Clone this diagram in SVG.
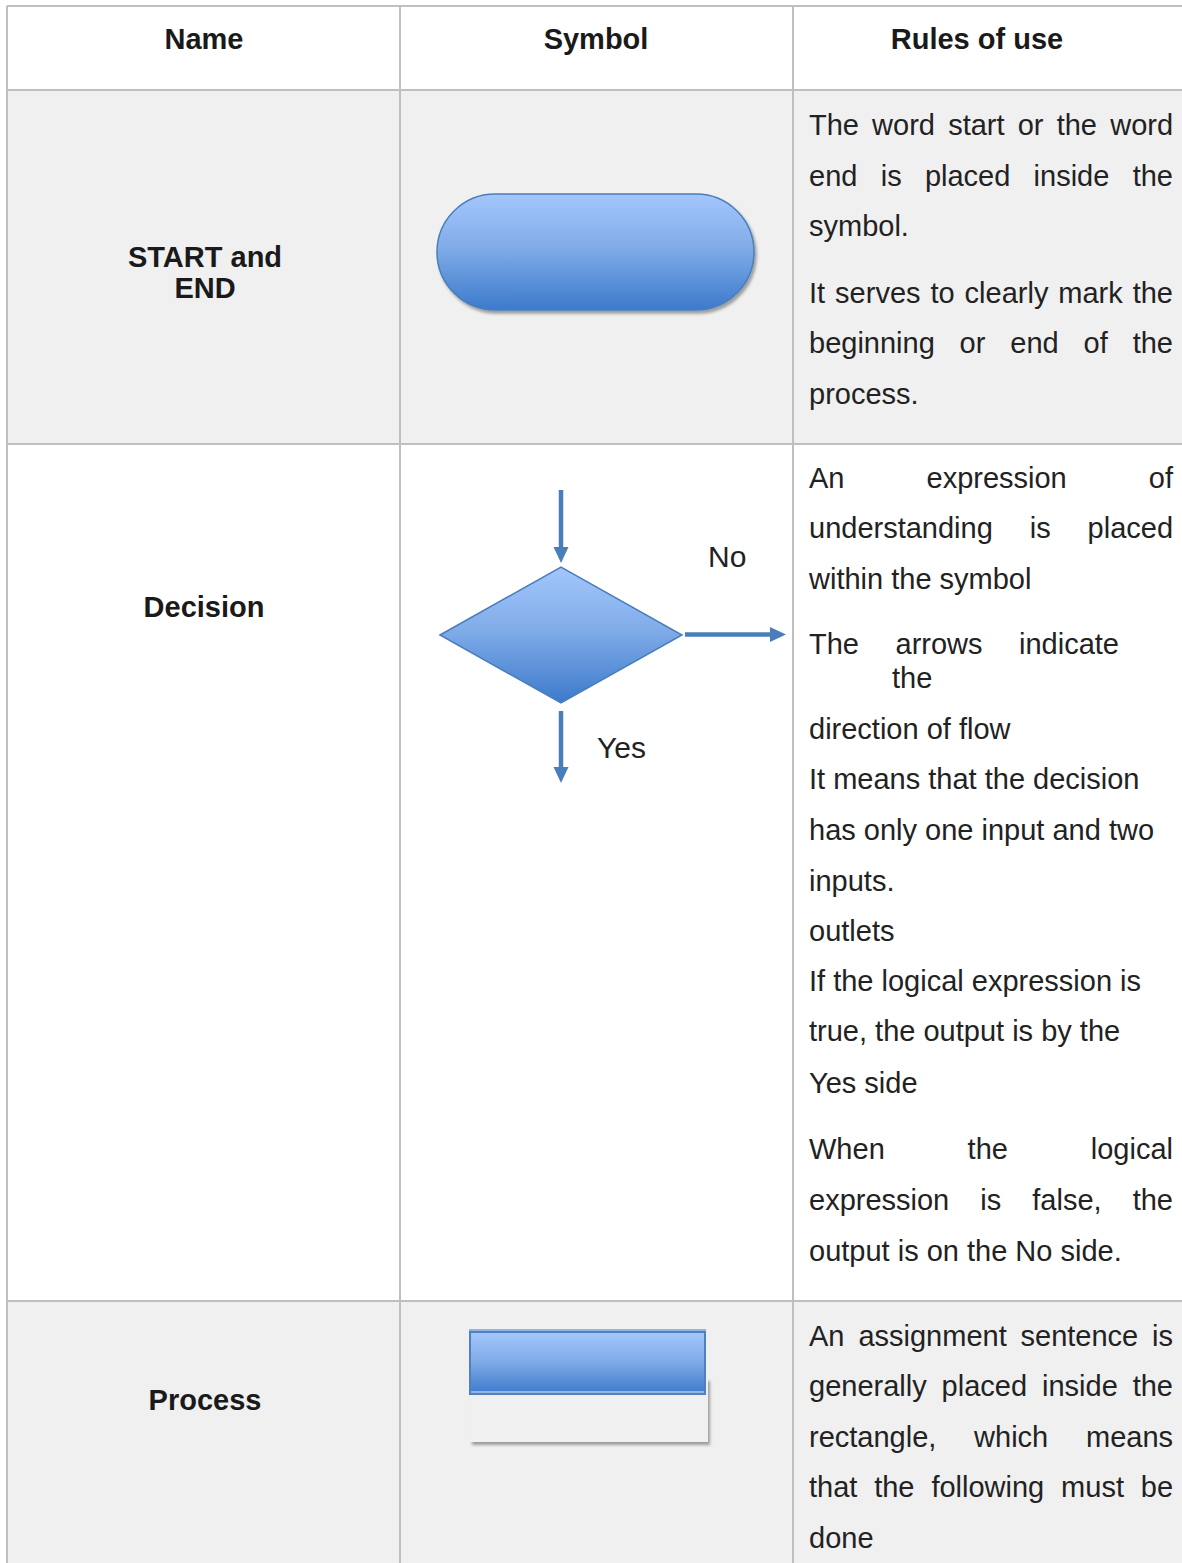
<svg xmlns="http://www.w3.org/2000/svg" width="1182" height="1563" viewBox="0 0 1182 1563">
<style>
.t{font-family:"Liberation Sans",Arial,Helvetica,sans-serif;font-size:29px;fill:#222}
.b{font-weight:bold;text-anchor:middle;fill:#1a1a1a}
.e{text-anchor:end}
.lab{font-size:30px}
.grid{stroke:#bfbfbf;stroke-width:2;fill:none}
.arrow{stroke:#4a7ebb;stroke-width:4.5;fill:none}
.shape{stroke:#4a7ebb;stroke-width:1.5}
</style>
<defs>
<linearGradient id="blue" x1="0" y1="0" x2="0" y2="1">
<stop offset="0" stop-color="#a3c6fc"/>
<stop offset="0.45" stop-color="#82ade9"/>
<stop offset="1" stop-color="#3c7acb"/>
</linearGradient>
<filter id="sh" x="-10%" y="-20%" width="130%" height="150%">
<feDropShadow dx="2" dy="3" stdDeviation="1.6" flood-color="#000" flood-opacity="0.35"/>
</filter>
<marker id="ah" markerWidth="16" markerHeight="16" refX="1" refY="8" orient="auto" markerUnits="userSpaceOnUse">
<path d="M0,0.5 L16,8 L0,15.5 z" fill="#4a7ebb"/>
</marker>
</defs>

<rect x="0" y="0" width="1182" height="1563" fill="#ffffff"/>

<g id="table">
<rect x="7" y="90" width="1175" height="354" fill="#f0f0f0"/>
<rect x="7" y="1301" width="1175" height="262" fill="#f0f0f0"/>
<path class="grid" d="M7,6 H1182 M7,90 H1182 M7,444 H1182 M7,1301 H1182 M7,6 V1563 M400,6 V1563 M793,6 V1563"/>
</g>

<g id="header">
<text class="t b" x="204" y="49">Name</text>
<text class="t b" x="596" y="49">Symbol</text>
<text class="t b" x="977" y="49">Rules of use</text>
</g>

<g id="row-start-end">
<text class="t b" x="205" y="267">START and</text>
<text class="t b" x="205" y="298">END</text>
<g id="terminal-symbol">
<rect class="shape" x="437" y="194" width="317" height="116" rx="58" ry="58" fill="url(#blue)" filter="url(#sh)"/>
</g>
<g id="rules-start-end">
<text class="t" y="135"><tspan x="809">The</tspan><tspan x="872.1">word</tspan><tspan x="948.2">start</tspan><tspan x="1017.7">or</tspan><tspan x="1056.7">the</tspan><tspan x="1110.2">word</tspan></text>
<text class="t" y="186"><tspan x="809">end</tspan><tspan x="880.7">is</tspan><tspan x="924.9">placed</tspan><tspan x="1033.6">inside</tspan><tspan x="1132.7">the</tspan></text>
<text class="t" x="809" y="236">symbol.</text>
<text class="t" y="303"><tspan x="809">It</tspan><tspan x="835.1">serves</tspan><tspan x="930.4">to</tspan><tspan x="964.6">clearly</tspan><tspan x="1058.3">mark</tspan><tspan x="1132.7">the</tspan></text>
<text class="t" y="353"><tspan x="809">beginning</tspan><tspan x="959.6">or</tspan><tspan x="1010.3">end</tspan><tspan x="1083.6">of</tspan><tspan x="1132.7">the</tspan></text>
<text class="t" x="809" y="404">process.</text>
</g>
</g>

<g id="row-decision">
<text class="t b" x="204" y="617">Decision</text>
<g id="decision-symbol">
<polygon class="shape" points="440,635 561,567 682,635 561,703" fill="url(#blue)"/>
</g>
<g id="rules-decision">
<text class="t" y="488"><tspan x="809">An</tspan><tspan x="926.5">expression</tspan><tspan x="1148.8">of</tspan></text>
<text class="t" y="538"><tspan x="809">understanding</tspan><tspan x="1029.7">is</tspan><tspan x="1087.6">placed</tspan></text>
<text class="t" x="809" y="589">within the symbol</text>
<text class="t" y="654"><tspan x="809">The</tspan><tspan x="895.5">arrows</tspan><tspan x="1019">indicate</tspan></text>
<text class="t" x="892" y="688">the</text>
<text class="t" x="809" y="739">direction of flow</text>
<text class="t" x="809" y="789">It means that the decision</text>
<text class="t" x="809" y="840">has only one input and two</text>
<text class="t" x="809" y="891">inputs.</text>
<text class="t" x="809" y="941">outlets</text>
<text class="t" x="809" y="991">If the logical expression is</text>
<text class="t" x="809" y="1041">true, the output is by the</text>
<text class="t" x="809" y="1093">Yes side</text>
<text class="t" y="1159"><tspan x="809">When</tspan><tspan x="967.6">the</tspan><tspan x="1090.8">logical</tspan></text>
<text class="t" y="1210"><tspan x="809">expression</tspan><tspan x="980.3">is</tspan><tspan x="1032.3">false,</tspan><tspan x="1132.7">the</tspan></text>
<text class="t" x="809" y="1261">output is on the No side.</text>
</g>
</g>

<g id="connectors">
<line id="arrow-in" class="arrow" x1="561" y1="490" x2="561" y2="548" marker-end="url(#ah)"/>
<line id="arrow-no" class="arrow" x1="685" y1="634.5" x2="771" y2="634.5" marker-end="url(#ah)"/>
<line id="arrow-yes" class="arrow" x1="561" y1="711" x2="561" y2="768" marker-end="url(#ah)"/>
<text class="t lab" x="708" y="567">No</text>
<text class="t lab" x="597" y="758">Yes</text>
</g>

<g id="row-process">
<text class="t b" x="205" y="1410">Process</text>
<g id="process-symbol">
<rect x="470" y="1378" width="238" height="64" fill="#f0f0f0" filter="url(#sh)"/>
<rect x="469" y="1329" width="237" height="3" fill="#8fb4ec"/>
<rect x="470" y="1332" width="235" height="62" fill="url(#blue)" stroke="#4f81bd" stroke-width="2"/>
<line x1="471" y1="1392" x2="704" y2="1392" stroke="#e8eef6" stroke-width="1"/>
</g>
<g id="rules-process">
<text class="t" y="1346"><tspan x="809">An</tspan><tspan x="858.4">assignment</tspan><tspan x="1020.5">sentence</tspan><tspan x="1152.1">is</tspan></text>
<text class="t" y="1396"><tspan x="809">generally</tspan><tspan x="941.6">placed</tspan><tspan x="1042">inside</tspan><tspan x="1132.7">the</tspan></text>
<text class="t" y="1447"><tspan x="809">rectangle,</tspan><tspan x="974.1">which</tspan><tspan x="1086">means</tspan></text>
<text class="t" y="1497"><tspan x="809">that</tspan><tspan x="874.2">the</tspan><tspan x="931.4">following</tspan><tspan x="1061.1">must</tspan><tspan x="1140.8">be</tspan></text>
<text class="t" x="809" y="1548">done</text>
</g>
</g>
</svg>
